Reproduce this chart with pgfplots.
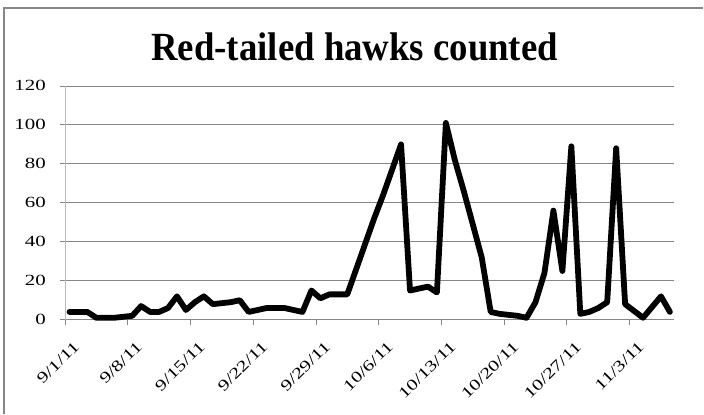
\documentclass[border=0pt]{standalone}
\usepackage{graphicx}
\usepackage{pgfplots}
\pgfplotsset{compat=1.18}
\usepackage{fontspec}
\setmainfont{Liberation Serif}
\newfontfamily\titlefont[FakeStretch=0.92]{Liberation Serif}
\newcommand\tickfs{\fontsize{15.5}{18}\selectfont}
\newcommand\wide[1]{\scalebox{1.35}[1]{#1}}
\definecolor{gridc}{RGB}{134,134,134}
\definecolor{yaxc}{RGB}{185,185,185}
\pgfplotstableread{
x y
0.5 4
1.5 4
2.5 4
3.5 1
4.5 1
5.5 1
6.5 1.5
7.5 2
8.5 7
9.5 4
10.5 4
11.5 6
12.5 12
13.5 5
14.5 9
15.5 12
16.5 8
17.5 8.5
18.5 9
19.5 10
20.5 4
21.5 5
22.5 6
23.5 6
24.5 6
25.5 5
26.5 4
27.5 15
28.5 11
29.5 13
30.5 13
31.5 13
32.5 26
33.5 39
34.5 52
35.5 64
36.5 77
37.5 90
38.5 15
39.5 16
40.5 17
41.5 14
42.5 101
43.5 82
44.5 66
45.5 49
46.5 32
47.5 4
48.5 3
49.5 2.5
50.5 2
51.5 1
52.5 9
53.5 24
54.5 56
55.5 25
56.5 89
57.5 3
58.5 4
59.5 6
60.5 9
61.5 88
62.5 8
63.5 4.5
64.5 1
65.5 6.5
66.5 12
67.5 4
}\hawks
\begin{document}
\begin{tikzpicture}[x=1pt,y=1pt]
\path (0,0) rectangle (704,414);
\draw[gridc, line width=1.2pt] (4,0) -- (4,406) -- (704,406);
\node[anchor=base, font=\titlefont\fontsize{40}{44}\selectfont\bfseries] at (355,353) {Red-tailed hawks counted};
\begin{axis}[
  at={(65pt,94pt)}, anchor=south west,
  scale only axis, width=610pt, height=234pt,
  xmin=0, xmax=68, ymin=0, ymax=120,
  axis lines=left, axis line style={-},
  x axis line style={gridc, line width=0.8pt},
  y axis line style={yaxc, line width=0.8pt},
  xtick={0,7,14,21,28,35,42,49,56,63},
  xticklabels={\wide{9/1/11},\wide{9/8/11},\wide{9/15/11},\wide{9/22/11},\wide{9/29/11},\wide{10/6/11},\wide{10/13/11},\wide{10/20/11},\wide{10/27/11},\wide{11/3/11}},
  ytick={0,20,40,60,80,100,120},
  yticklabels={\wide{0},\wide{20},\wide{40},\wide{60},\wide{80},\wide{100},\wide{120}},
  ymajorgrids, major grid style={gridc, line width=0.8pt},
  tick align=outside, major tick length=5pt,
  tick style={gridc, line width=0.8pt},
  xticklabel style={font=\tickfs, xshift=8pt, yshift=-14pt, rotate=45, anchor=north east, inner sep=1pt},
  yticklabel style={font=\tickfs, xshift=-12pt, anchor=east, inner sep=2pt},
  clip=false,
]
\addplot[black, line width=5.8pt, line join=round, line cap=round] table[x=x,y=y] {\hawks};
\end{axis}
\end{tikzpicture}
\end{document}
